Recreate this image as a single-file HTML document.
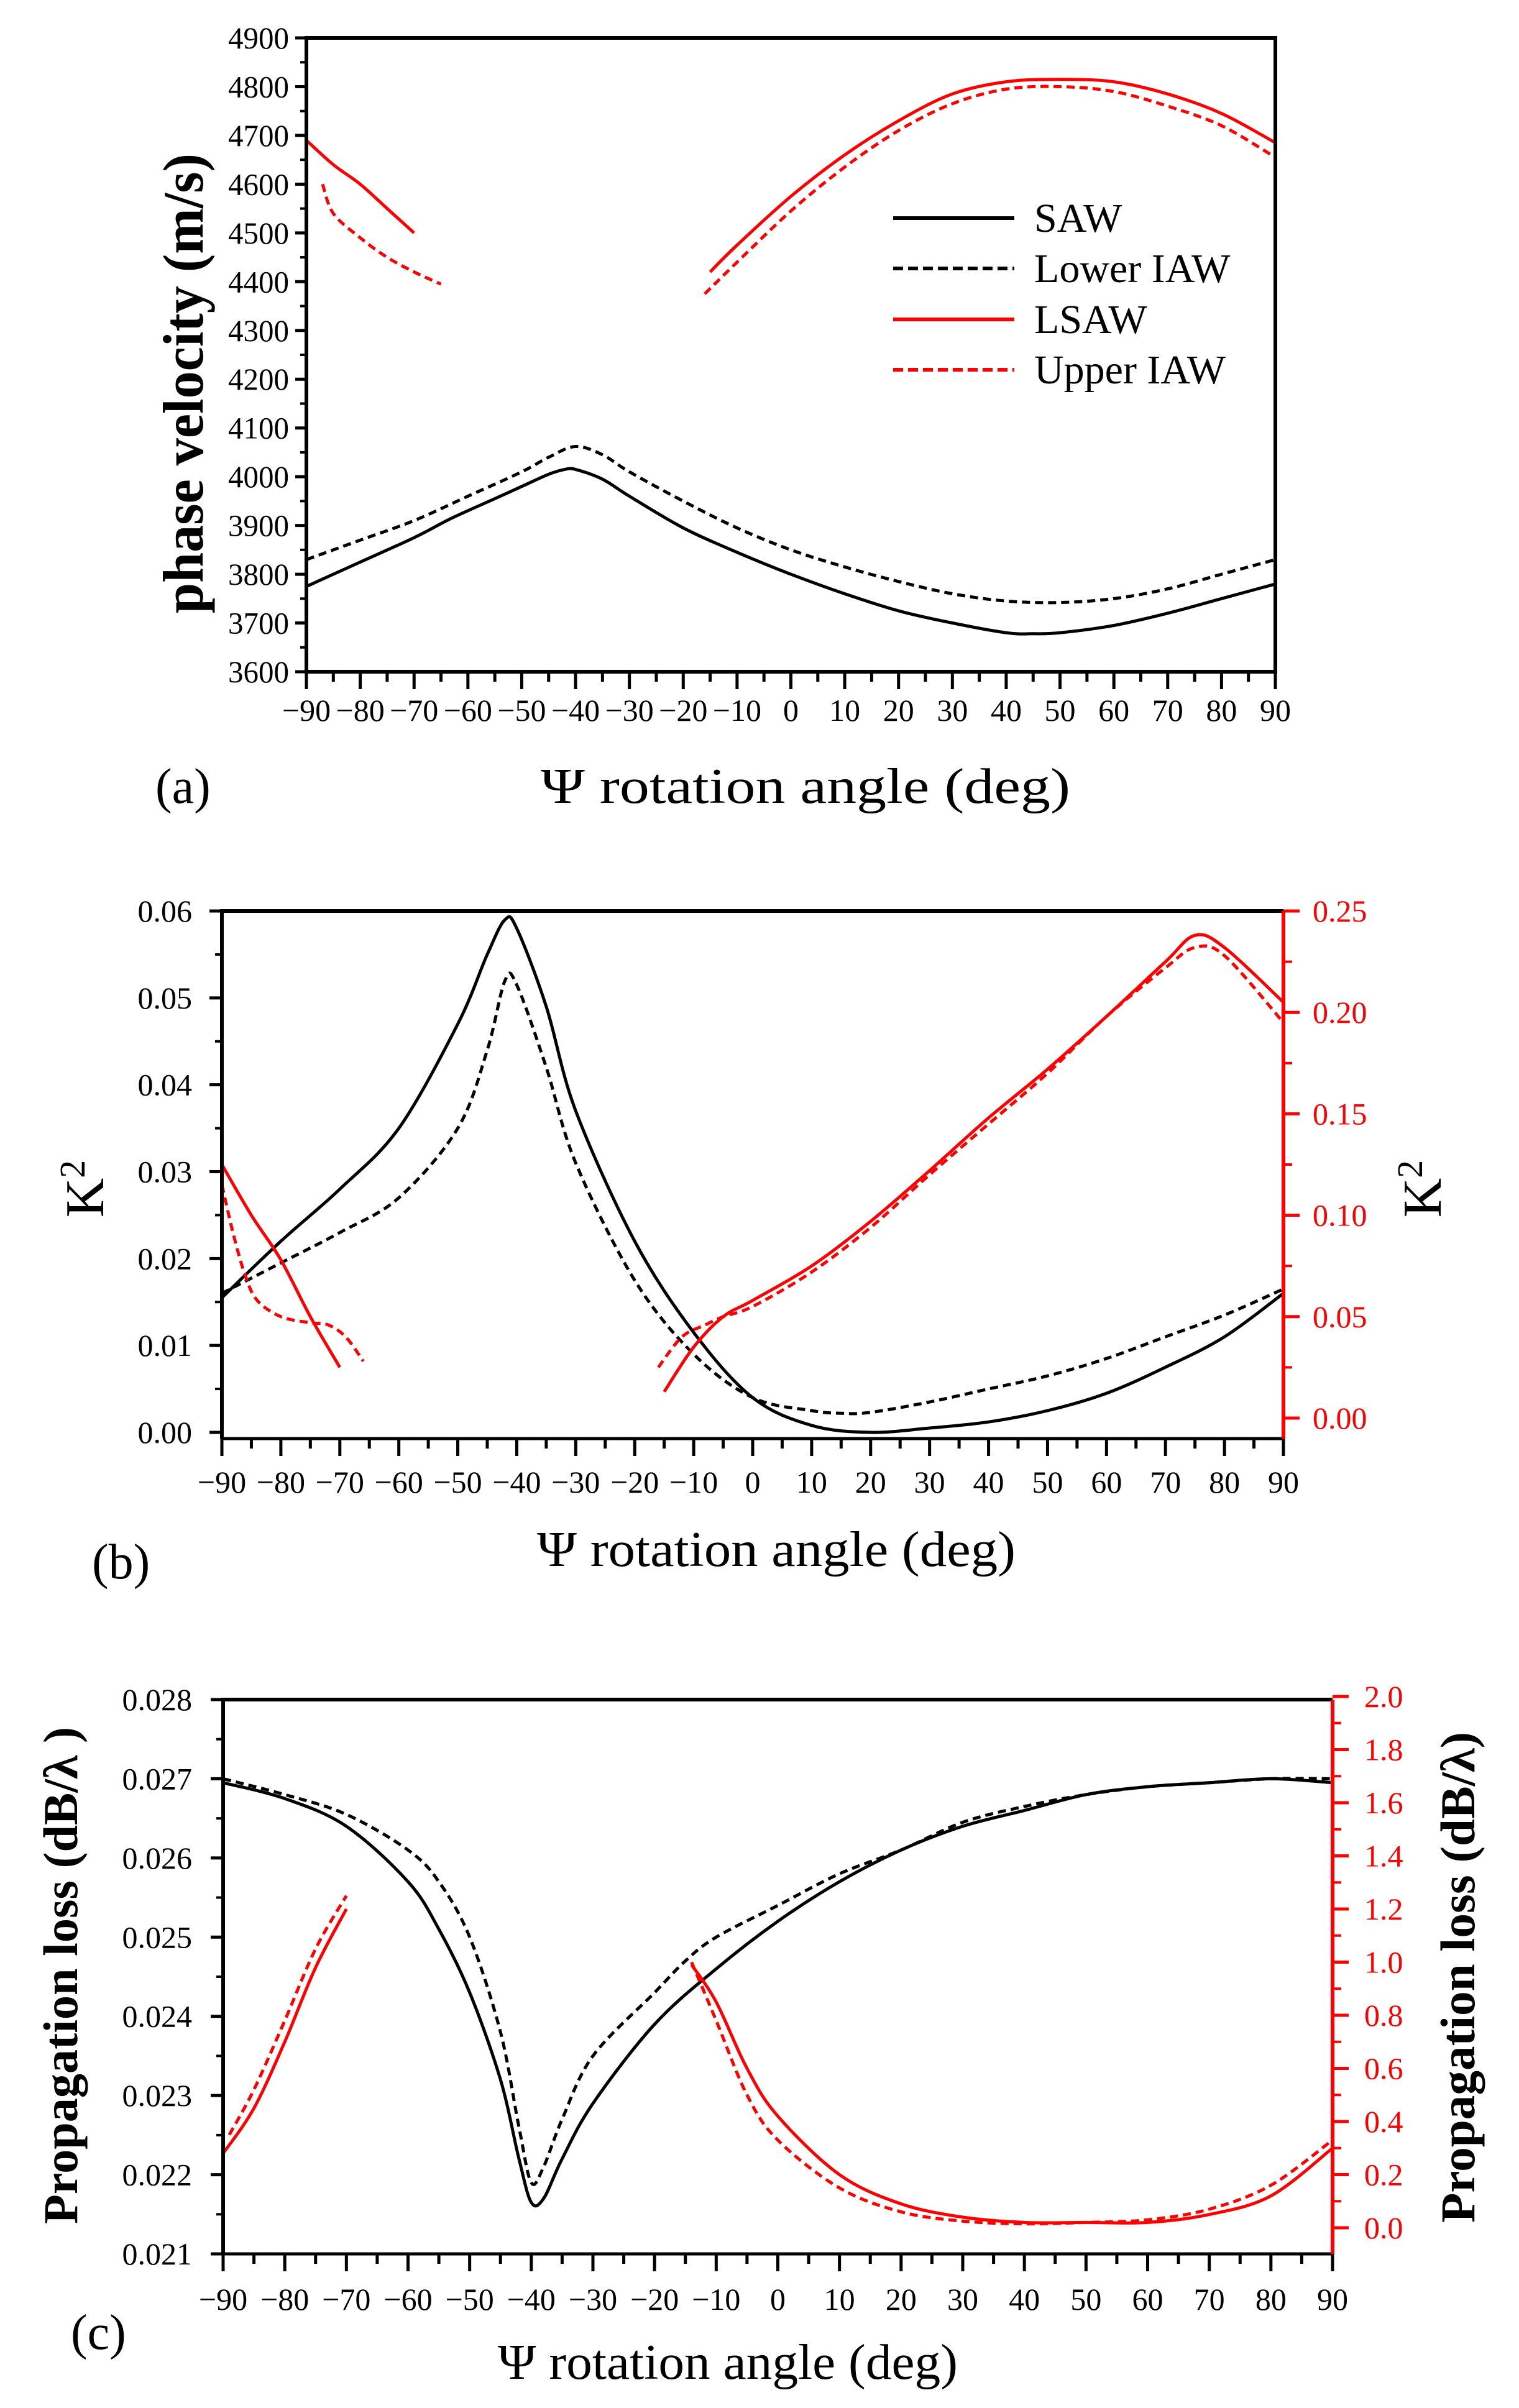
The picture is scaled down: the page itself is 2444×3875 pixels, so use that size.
<!DOCTYPE html>
<html><head><meta charset="utf-8"><style>
html,body{margin:0;padding:0;background:#fff}
svg{display:block}
text{font-family:"Liberation Serif",serif}
</style></head><body>
<svg id="fig" width="2444" height="3875" viewBox="0 0 2444 3875" xmlns="http://www.w3.org/2000/svg"></svg>
<script>
// ---------- data ----------
const xTicks=[-90,-80,-70,-60,-50,-40,-30,-20,-10,0,10,20,30,40,50,60,70,80,90];
// Panel (a) phase velocity
const aTicks=[3600,3700,3800,3900,4000,4100,4200,4300,4400,4500,4600,4700,4800,4900];
const aSawX=[-90,-80,-70,-63,-55,-50,-45,-42,-40,-35,-30,-20,-10,0,10,20,30,40,45,50,60,70,80,90];
const aSawY=[3775,3825,3875,3915,3955,3980,4005,4015,4015,3995,3960,3895,3845,3800,3760,3725,3700,3680,3678,3680,3695,3720,3750,3780];
const aLowX=[-90,-80,-70,-60,-50,-45,-40,-35,-30,-20,-10,0,10,20,30,40,50,60,70,80,90];
const aLowY=[3830,3870,3910,3960,4010,4040,4062,4045,4010,3950,3895,3850,3815,3785,3760,3745,3742,3750,3770,3800,3830];
const aLs1X=[-90,-85,-80,-75,-70];
const aLs1Y=[4690,4640,4600,4550,4500];
const aLs2X=[-15,-10,0,10,20,30,40,50,60,70,80,90];
const aLs2Y=[4420,4475,4575,4660,4730,4785,4810,4815,4810,4785,4745,4685];
const aUp1X=[-87,-85,-80,-75,-70,-65];
const aUp1Y=[4600,4540,4490,4450,4420,4395];
const aUp2X=[-16,-10,0,10,20,30,40,50,60,70,80,90];
const aUp2Y=[4375,4440,4545,4635,4710,4765,4795,4800,4790,4760,4720,4655];
// Panel (b) K2
const bTicksL=[0,0.01,0.02,0.03,0.04,0.05,0.06];
const bTicksR=[0,0.05,0.10,0.15,0.20,0.25];
const bSawX=[-90,-80,-70,-60,-50,-45,-42,-40,-35,-30,-20,-10,0,10,20,30,40,50,60,70,80,90];
const bSawY=[0.0155,0.022,0.028,0.035,0.047,0.055,0.059,0.058,0.049,0.037,0.022,0.0115,0.004,0.0008,0,0.0005,0.0012,0.0025,0.0045,0.0075,0.011,0.016];
const bLowX=[-90,-80,-70,-60,-50,-45,-42,-40,-35,-30,-20,-10,0,10,15,20,30,40,50,60,70,80,90];
const bLowY=[0.016,0.0195,0.023,0.027,0.035,0.044,0.052,0.0515,0.042,0.031,0.0175,0.009,0.004,0.0025,0.0022,0.0023,0.0035,0.005,0.0065,0.0085,0.011,0.0135,0.0165];
const bLs1X=[-90,-85,-80,-75,-70];
const bLs1Y=[0.125,0.10,0.078,0.05,0.025];
const bLs2X=[-15,-10,-5,0,10,20,30,40,50,60,70,75,80,90];
const bLs2Y=[0.013,0.035,0.05,0.058,0.075,0.097,0.122,0.148,0.172,0.198,0.225,0.238,0.232,0.205];
const bUp1X=[-90,-88,-86,-84,-80,-75,-72,-69,-66];
const bUp1Y=[0.115,0.09,0.07,0.058,0.05,0.047,0.046,0.04,0.028];
const bUp2X=[-16,-12,-8,-5,0,10,20,30,40,50,60,70,75,80,90];
const bUp2Y=[0.025,0.04,0.046,0.05,0.055,0.072,0.094,0.12,0.145,0.17,0.198,0.222,0.232,0.228,0.195];
// Panel (c) propagation loss
const cTicksL=[0.021,0.022,0.023,0.024,0.025,0.026,0.027,0.028];
const cTicksR=[0,0.2,0.4,0.6,0.8,1.0,1.2,1.4,1.6,1.8,2.0];
const cSawX=[-90,-80,-70,-60,-55,-50,-45,-42,-40,-38,-35,-30,-20,-10,0,10,20,30,40,50,60,70,80,90];
const cSawY=[0.02695,0.02675,0.0264,0.0257,0.0251,0.0243,0.0232,0.0222,0.02165,0.0217,0.0222,0.0229,0.0239,0.0246,0.0252,0.0257,0.0261,0.0264,0.0266,0.0268,0.0269,0.02695,0.0270,0.02695];
const cLowX=[-90,-80,-70,-60,-55,-50,-45,-42,-40,-38,-35,-30,-20,-15,-10,0,10,20,30,40,50,60,70,80,90];
const cLowY=[0.0270,0.0268,0.02655,0.0261,0.0257,0.0250,0.0238,0.0226,0.0219,0.0221,0.0227,0.0235,0.0243,0.0247,0.0250,0.0254,0.0258,0.0261,0.02645,0.02665,0.0268,0.0269,0.02695,0.0270,0.0270];
const cLs1X=[-90,-85,-80,-75,-70];
const cLs1Y=[0.28,0.45,0.7,0.98,1.2];
const cLs2X=[-14,-10,-5,0,10,20,30,40,50,60,70,80,90];
const cLs2Y=[0.99,0.85,0.6,0.42,0.2,0.09,0.04,0.02,0.02,0.02,0.05,0.12,0.3];
const cUp1X=[-89,-85,-80,-75,-70];
const cUp1Y=[0.35,0.52,0.78,1.05,1.25];
const cUp2X=[-14,-10,-5,0,10,20,30,40,50,60,70,80,90];
const cUp2Y=[1.0,0.78,0.5,0.33,0.15,0.06,0.025,0.015,0.02,0.03,0.07,0.16,0.33];

// ---------- helpers ----------
const NS="http://www.w3.org/2000/svg";
const svg=document.getElementById('fig');
function mk(tag,attrs,parent){const e=document.createElementNS(NS,tag);for(const k in attrs)e.setAttribute(k,attrs[k]);(parent||svg).appendChild(e);return e;}
function txt(str,attrs,parent){const e=mk('text',attrs,parent);e.textContent=str;return e;}
function lin(d0,d1,r0,r1){return v=>r0+(v-d0)/(d1-d0)*(r1-r0);}
function fmt(v,dec){return v.toFixed(dec);}
function series(xs,ys,X,Y,color,dashed,name,g){
  const P=xs.map((x,i)=>[X(x),Y(ys[i])]);
  let d='M'+P[0][0].toFixed(1)+' '+P[0][1].toFixed(1);
  for(let i=0;i<P.length-1;i++){
    const p0=P[Math.max(0,i-1)],p1=P[i],p2=P[i+1],p3=P[Math.min(P.length-1,i+2)];
    const c1x=p1[0]+(p2[0]-p0[0])/6,c1y=p1[1]+(p2[1]-p0[1])/6;
    const c2x=p2[0]-(p3[0]-p1[0])/6,c2y=p2[1]-(p3[1]-p1[1])/6;
    d+=`C${c1x.toFixed(1)} ${c1y.toFixed(1)} ${c2x.toFixed(1)} ${c2y.toFixed(1)} ${p2[0].toFixed(1)} ${p2[1].toFixed(1)}`;
  }
  const p=mk('path',{d:d,fill:'none',stroke:color,'stroke-width':5,'stroke-linejoin':'round','stroke-dasharray':dashed?'13 8':'none'},g);
  
  
}
function xAxis(g,X,yb,labelY){
  for(let v=-90;v<=90;v+=5){
    const maj=v%10===0;
    const t=mk('line',{x1:X(v),x2:X(v),y1:yb,y2:yb+(maj?28:16),stroke:'#000','stroke-width':5},g);
    
    
  }
  xTicks.forEach(v=>{
    const t=txt(v<0?'\u2212'+(-v):String(v),{x:X(v),y:labelY,'font-size':50,'text-anchor':'middle',fill:'#000'},g);
    
    
  });
}
function yAxisLeft(g,Y,ticks,dec,xl,labelRight){
  for(let i=0;i<ticks.length;i++){
    const v=ticks[i];
    const t=mk('line',{x1:xl-20,x2:xl,y1:Y(v),y2:Y(v),stroke:'#000','stroke-width':5},g);
    
    
    if(i<ticks.length-1){const m=(ticks[i]+ticks[i+1])/2;
      const mm=mk('line',{x1:xl-11,x2:xl,y1:Y(m),y2:Y(m),stroke:'#000','stroke-width':4},g);
      
      }
    const l=txt(fmt(v,dec),{x:labelRight,y:Y(v)+17,'font-size':50,'text-anchor':'end',fill:'#000'},g);
    
    
  }
}
function yAxisRight(g,Y,ticks,dec,xr,labelLeft){
  for(let i=0;i<ticks.length;i++){
    const v=ticks[i];
    const t=mk('line',{x1:xr,x2:xr+26,y1:Y(v),y2:Y(v),stroke:'#f00','stroke-width':5},g);
    
    
    if(i<ticks.length-1){const m=(ticks[i]+ticks[i+1])/2;
      const mm=mk('line',{x1:xr,x2:xr+14,y1:Y(m),y2:Y(m),stroke:'#f00','stroke-width':4},g);
      
      }
    const l=txt(fmt(v,dec),{x:labelLeft,y:Y(v)+17,'font-size':50,fill:'#f00'},g);
    
    
  }
}

// ---------- panel (a) ----------
(function(){
  const g=mk('g',{});
  const L=493,R=2052,T=61,B=1081;
  const X=lin(-90,90,L,R),Y=lin(3600,4900,B,T);
  series(aSawX,aSawY,X,Y,'#000',false,'saw-line',g);
  series(aLowX,aLowY,X,Y,'#000',true,'lower-iaw-line',g);
  series(aLs1X,aLs1Y,X,Y,'#f00',false,'lsaw-line-left',g);
  series(aLs2X,aLs2Y,X,Y,'#f00',false,'lsaw-line-right',g);
  series(aUp1X,aUp1Y,X,Y,'#f00',true,'upper-iaw-line-left',g);
  series(aUp2X,aUp2Y,X,Y,'#f00',true,'upper-iaw-line-right',g);
  const f=mk('path',{d:`M${L} ${T}H${R}V${B}H${L}Z`,fill:'none',stroke:'#000','stroke-width':6},g);
  
  xAxis(g,X,B,1160);
  for(let i=0;i<aTicks.length;i++){
    const v=aTicks[i];
    const t=mk('line',{x1:L-18,x2:L,y1:Y(v),y2:Y(v),stroke:'#000','stroke-width':5},g);
    
    if(i<aTicks.length-1){const mm=mk('line',{x1:L-10,x2:L,y1:Y(v+50),y2:Y(v+50),stroke:'#000','stroke-width':4},g);
      }
    const l=txt(String(v),{x:465,y:Y(v)+17,'font-size':50,'text-anchor':'end',textLength:98,lengthAdjust:'spacingAndGlyphs'},g);
    
  }
  const yt=txt('phase velocity (m/s)',{x:0,y:0,'font-size':92,'font-weight':'bold','text-anchor':'middle',textLength:740,lengthAdjust:'spacingAndGlyphs',transform:'translate(326,617) rotate(-90)'},g);
  
  const xt=txt('\u03A8 rotation angle (deg)',{x:1296,y:1292,'font-size':80,'text-anchor':'middle',textLength:852,lengthAdjust:'spacingAndGlyphs'},g);
  
  const pl=txt('(a)',{x:250,y:1292,'font-size':80},g);
  
  const leg=mk('g',{},g);
  const names=['SAW','Lower IAW','LSAW','Upper IAW'],cols=['#000','#000','#f00','#f00'],dash=[false,true,false,true],ys=[351,432,514,595];
  for(let i=0;i<4;i++){
    const e=mk('g',{},leg);
    mk('line',{x1:1437,x2:1632,y1:ys[i],y2:ys[i],stroke:cols[i],'stroke-width':6,'stroke-dasharray':dash[i]?'16 8':'none'},e);
    txt(names[i],{x:1664,y:ys[i]+22,'font-size':66},e);
  }
})();

// ---------- panel (b) ----------
(function(){
  const g=mk('g',{});
  const L=357,R=2065,T=1466,B=2315;
  const X=lin(-90,90,L,R),YL=lin(0,0.06,2305,1466),YR=lin(0,0.25,2282,1466);
  series(bSawX,bSawY,X,YL,'#000',false,'saw-line',g);
  series(bLowX,bLowY,X,YL,'#000',true,'lower-iaw-line',g);
  series(bLs1X,bLs1Y,X,YR,'#f00',false,'lsaw-line-left',g);
  series(bLs2X,bLs2Y,X,YR,'#f00',false,'lsaw-line-right',g);
  series(bUp1X,bUp1Y,X,YR,'#f00',true,'upper-iaw-line-left',g);
  series(bUp2X,bUp2Y,X,YR,'#f00',true,'upper-iaw-line-right',g);
  mk('path',{d:`M${L} ${B}V${T}H${R}`,fill:'none',stroke:'#000','stroke-width':6},g);
  mk('line',{x1:L,x2:R,y1:B,y2:B,stroke:'#000','stroke-width':5},g);
  mk('line',{x1:R,x2:R,y1:T,y2:B,stroke:'#f00','stroke-width':6},g);
  xAxis(g,X,B,2402);
  yAxisLeft(g,YL,bTicksL,2,L,309);
  yAxisRight(g,YR,bTicksR,2,R,2112);
  const y1=txt('K',{x:0,y:0,'font-size':88,'text-anchor':'middle',transform:'translate(166,1913) rotate(-90)'},g);
  const s1=mk('tspan',{dy:-30,'font-size':58},y1);s1.textContent='2';
  
  const y2=txt('K',{x:0,y:0,'font-size':88,'text-anchor':'middle',transform:'translate(2318,1913) rotate(-90)'},g);
  const s2=mk('tspan',{dy:-30,'font-size':58},y2);s2.textContent='2';
  
  const xt=txt('\u03A8 rotation angle (deg)',{x:1249,y:2520,'font-size':80,'text-anchor':'middle',textLength:770,lengthAdjust:'spacingAndGlyphs'},g);
  
  const pl=txt('(b)',{x:148,y:2540,'font-size':80},g);
  
})();

// ---------- panel (c) ----------
(function(){
  const g=mk('g',{});
  const L=359,R=2144,T=2735,B=3627;
  const X=lin(-90,90,L,R),YL=lin(0.021,0.028,B,T),YR=lin(0,2,3585,2730);
  series(cSawX,cSawY,X,YL,'#000',false,'saw-line',g);
  series(cLowX,cLowY,X,YL,'#000',true,'lower-iaw-line',g);
  series(cLs1X,cLs1Y,X,YR,'#f00',false,'lsaw-line-left',g);
  series(cLs2X,cLs2Y,X,YR,'#f00',false,'lsaw-line-right',g);
  series(cUp1X,cUp1Y,X,YR,'#f00',true,'upper-iaw-line-left',g);
  series(cUp2X,cUp2Y,X,YR,'#f00',true,'upper-iaw-line-right',g);
  mk('path',{d:`M${L} ${B}V${T}H${R}`,fill:'none',stroke:'#000','stroke-width':6},g);
  mk('line',{x1:L,x2:R,y1:B,y2:B,stroke:'#000','stroke-width':5},g);
  mk('line',{x1:R,x2:R,y1:T,y2:B,stroke:'#f00','stroke-width':6},g);
  xAxis(g,X,B,3717);
  yAxisLeft(g,YL,cTicksL,3,L,309);
  yAxisRight(g,YR,cTicksR,1,R,2195);
  const y1=txt('Propagation loss (dB/\u03BB )',{x:0,y:0,'font-size':78,'font-weight':'bold','text-anchor':'middle',textLength:800,lengthAdjust:'spacingAndGlyphs',transform:'translate(124,3179) rotate(-90)'},g);
  
  const y2=txt('Propagation loss (dB/\u03BB)',{x:0,y:0,'font-size':78,'font-weight':'bold','text-anchor':'middle',textLength:790,lengthAdjust:'spacingAndGlyphs',transform:'translate(2372,3182) rotate(-90)'},g);
  
  const xt=txt('\u03A8 rotation angle (deg)',{x:1171,y:3828,'font-size':80,'text-anchor':'middle',textLength:740,lengthAdjust:'spacingAndGlyphs'},g);
  
  const pl=txt('(c)',{x:114,y:3780,'font-size':80},g);
  
})();
</script>
</body></html>
